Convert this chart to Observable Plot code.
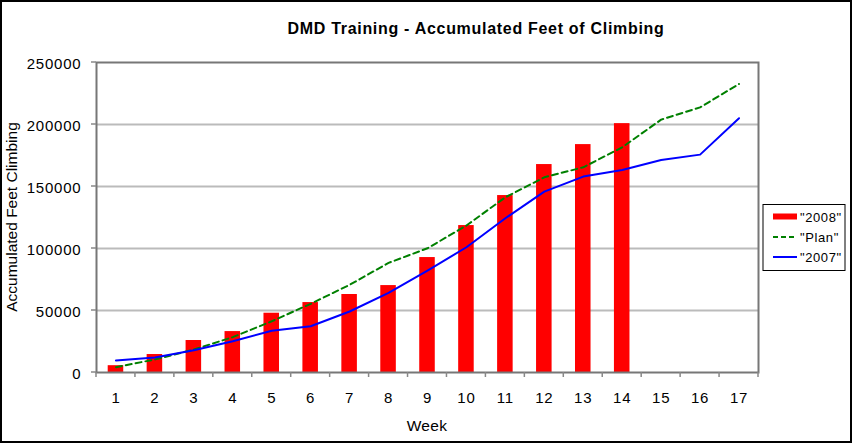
<!DOCTYPE html>
<html><head><meta charset="utf-8">
<script src="https://cdn.jsdelivr.net/npm/d3@7"></script>
<script src="https://cdn.jsdelivr.net/npm/@observablehq/plot@0.6"></script>
<style>body{margin:0;background:#fff}</style>
</head><body><div id="chart"></div>
<script>
const weeks = [1,2,3,4,5,6,7,8,9,10,11,12,13,14,15,16,17];
const values2008 = [5500,14500,25800,33000,47800,56400,62900,70100,92700,118500,142700,167700,183800,200700];
const valuesPlan = [4300,10500,18500,28500,41300,55400,70700,88400,100200,118500,141300,157400,165500,181600,203900,213800,232700];
const values2007 = [9700,12100,18000,25200,33600,37300,49200,64200,82200,101000,124400,145900,158000,163300,171400,175700,205000];
const yTicks = [0,50000,100000,150000,200000,250000];
const seriesNames = ['"2008"','"Plan"','"2007"'];
const titleText = "DMD Training - Accumulated Feet of Climbing";
const xLabel = "Week";
const yLabel = "Accumulated Feet Climbing";

const bars = values2008.map((v,i)=>({week: weeks[i], value: v}));
const planRows = valuesPlan.map((v,i)=>({week: weeks[i], value: v}));
const rows2007 = values2007.map((v,i)=>({week: weeks[i], value: v}));

const FONT = "'Liberation Sans', Arial, Helvetica, sans-serif";

const plot = Plot.plot({
  width: 852, height: 443,
  marginLeft: 96, marginRight: 94, marginTop: 62, marginBottom: 71,
  style: {fontFamily: FONT, background: "#fff", color: "#000"},
  x: {type: "band", domain: weeks, padding: 0, round: false},
  y: {domain: [0, 250000]},
  marks: [
    Plot.gridY(yTicks.slice(1, -1), {stroke: "#bbb", strokeOpacity: 1, strokeWidth: 2}),
    Plot.barY(bars, {x: "week", y: "value", fill: "#ff0000", insetLeft: 11.7, insetRight: 11.7}),
    Plot.line(planRows, {x: "week", y: "value", stroke: "#008000", strokeWidth: 2, strokeDasharray: "6,4"}),
    Plot.line(rows2007, {x: "week", y: "value", stroke: "#0000ff", strokeWidth: 2}),
    Plot.frame({stroke: "#777", strokeWidth: 2}),
    Plot.axisY(yTicks, {tickSize: 0, tickPadding: 15, tickFormat: d => String(d), label: null, fontSize: 15, dy: 2}),
    Plot.axisX({tickSize: 0, tickPadding: 20, label: null, fontSize: 15})
  ]
});

document.getElementById("chart").appendChild(plot);
const svg = d3.select(plot);
svg.selectAll('g[aria-label="y-axis tick label"] text, g[aria-label="x-axis tick label"] text').attr("letter-spacing", "0.8px");

const xs = plot.scale("x");
const ys = plot.scale("y");
const y0 = ys.apply(0);
const g = svg.append("g");
// x-axis ticks at band boundaries
const bounds = weeks.map(w => xs.apply(w)).concat([xs.apply(weeks[weeks.length-1]) + xs.bandwidth]);
g.selectAll("line.xt").data(bounds).join("line")
  .attr("x1", d => d).attr("x2", d => d).attr("y1", y0).attr("y2", y0 + 5)
  .attr("stroke", "#888").attr("stroke-width", 1.5);
// y-axis ticks
const x0 = xs.apply(weeks[0]);
g.selectAll("line.yt").data(yTicks).join("line")
  .attr("x1", x0 - 5).attr("x2", x0).attr("y1", d => ys.apply(d)).attr("y2", d => ys.apply(d))
  .attr("stroke", "#888").attr("stroke-width", 1.5);

// title
svg.append("text").attr("x", 476).attr("y", 34).attr("text-anchor", "middle")
  .attr("font-family", FONT).attr("font-size", 16).attr("font-weight", "bold")
  .attr("letter-spacing", "0.7px").text(titleText);
// axis titles
svg.append("text").attr("x", 427).attr("y", 431).attr("text-anchor", "middle")
  .attr("font-family", FONT).attr("font-size", 15.5).attr("letter-spacing", "0.3px").text(xLabel);
svg.append("text").attr("transform", "translate(17,217) rotate(-90)").attr("text-anchor", "middle")
  .attr("font-family", FONT).attr("font-size", 15.5).text(yLabel);

// legend
const lg = svg.append("g").attr("font-family", FONT).attr("font-size", 13).attr("letter-spacing", "0.6px").attr("text-anchor", "start");
lg.append("rect").attr("x", 763).attr("y", 204.5).attr("width", 82).attr("height", 66)
  .attr("fill", "#fff").attr("stroke", "#000").attr("stroke-width", 1);
const ly = [216.5, 237, 257];
lg.append("rect").attr("x", 773).attr("y", ly[0] - 3).attr("width", 24).attr("height", 6).attr("fill", "#ff0000");
lg.append("line").attr("x1", 773).attr("x2", 797).attr("y1", ly[1]).attr("y2", ly[1])
  .attr("stroke", "#008000").attr("stroke-width", 2).attr("stroke-dasharray", "5,3");
lg.append("line").attr("x1", 773).attr("x2", 797).attr("y1", ly[2]).attr("y2", ly[2])
  .attr("stroke", "#0000ff").attr("stroke-width", 2);
seriesNames.forEach((n, i) => {
  lg.append("text").attr("x", 800).attr("y", ly[i] + 5).attr("text-anchor", "start").text(n);
});

// outer border
svg.append("rect").attr("x", 1).attr("y", 1).attr("width", 850).attr("height", 441)
  .attr("fill", "none").attr("stroke", "#000").attr("stroke-width", 2);
</script>
</body></html>
